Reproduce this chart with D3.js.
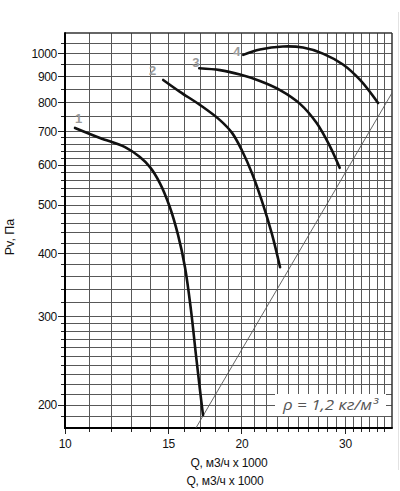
<!DOCTYPE html>
<html>
<head>
<meta charset="utf-8">
<script src="https://cdn.jsdelivr.net/npm/d3@7"></script>
<style>
  html, body { margin: 0; padding: 0; background: #fff; }
  svg { display: block; }
</style>
</head>
<body>
<svg id="chart" width="400" height="491"></svg>
<script>
// ---- data ----
const qTicks = [10, 15, 20, 30];
const pTicks = [200, 300, 400, 500, 600, 700, 800, 900, 1000];
const qGrid = [11, 12, 13, 14, 15, 16, 17, 18, 19, 20, 21, 22, 23, 24, 25, 26, 27, 28, 29, 30, 31, 32, 33, 34, 35];
const pGrid = [190, 200, 210, 220, 230, 240, 250, 260, 270, 280, 290, 300,
               320, 340, 360, 380, 400, 420, 440, 460, 480, 500, 520, 540, 560, 580, 600,
               620, 640, 660, 680, 700, 750, 800, 850, 900, 950, 1000, 1050];

const curveNames = ["1", "2", "3", "4"];
const curve1Q = [10.40, 11.47, 12.65, 13.41, 13.95, 14.50, 15.08, 15.57, 16.00, 16.38, 16.70, 16.97, 17.17];
const curve1P = [712, 680, 652, 623, 595, 553, 495, 436, 376, 309, 252, 214, 191];
const curve2Q = [14.69, 15.69, 16.97, 18.35, 19.24, 20.00, 20.81, 21.63, 22.49, 23.22];
const curve2P = [887, 840, 791, 738, 696, 642, 578, 509, 438, 376];
const curve3Q = [16.92, 18.35, 19.85, 21.46, 23.22, 25.11, 26.80, 28.22, 29.33];
const curve3P = [936, 928, 909, 883, 847, 795, 728, 655, 593];
const curve4Q = [20.10, 21.46, 23.48, 25.40, 27.46, 29.71, 31.77, 34.09];
const curve4P = [995, 1020, 1034, 1029, 1001, 952, 887, 798];
const labelQ = [10.55, 14.1, 16.7, 19.6];
const labelP = [745, 925, 960, 1010];

const systemQ = [16.7, 36];
const systemP = [180, 836];

const densityText = "ρ = 1,2 кг/м³";
const xTitle = "Q, м3/ч x 1000";
const yTitle = "Pv, Па";

// ---- layout ----
const L = 65, R = 392, T = 33, B = 428;
const x = d3.scaleLog().domain([10, 36]).range([L, R]);
const y = d3.scaleLog().domain([180, 1100]).range([B, T]);

const svg = d3.select("#chart");
svg.append("rect").attr("width", 400).attr("height", 491).attr("fill", "#fff");

// faint artifact line at right
svg.append("line").attr("x1", 398.5).attr("x2", 398.5).attr("y1", 12).attr("y2", 470)
  .attr("stroke", "#e2e2e2").attr("stroke-width", 1);

svg.append("defs").append("clipPath").attr("id", "plot")
  .append("rect").attr("x", L).attr("y", T).attr("width", R - L).attr("height", B - T);

const grid = svg.append("g").attr("shape-rendering", "crispEdges");
grid.selectAll("line.v").data(qGrid).join("line").attr("class", "v")
  .attr("x1", d => x(d)).attr("x2", d => x(d)).attr("y1", T).attr("y2", B)
  .attr("stroke", "#585858").attr("stroke-width", 1);
grid.selectAll("line.h").data(pGrid).join("line").attr("class", "h")
  .attr("x1", L).attr("x2", R).attr("y1", d => y(d)).attr("y2", d => y(d))
  .attr("stroke", "#585858").attr("stroke-width", 1);

// y ticks (outside left)
const yt = svg.append("g").attr("shape-rendering", "crispEdges");
yt.selectAll("line").data(pGrid).join("line")
  .attr("x1", d => pTicks.includes(d) ? L - 7 : L - 4).attr("x2", L)
  .attr("y1", d => y(d)).attr("y2", d => y(d))
  .attr("stroke", "#222").attr("stroke-width", 1);
yt.selectAll("text").data(pTicks).join("text")
  .attr("x", L - 8).attr("y", d => y(d)).attr("dy", "0.35em")
  .attr("text-anchor", "end")
  .attr("font-family", "Liberation Sans, Arial, sans-serif").attr("font-size", 12)
  .attr("letter-spacing", -0.3)
  .attr("fill", "#111").text(d => d);

// x ticks (below)
const xt = svg.append("g").attr("shape-rendering", "crispEdges");
xt.selectAll("line").data([10].concat(qGrid)).join("line")
  .attr("x1", d => x(d)).attr("x2", d => x(d))
  .attr("y1", B).attr("y2", d => qTicks.includes(d) ? B + 6 : B + 4)
  .attr("stroke", "#222").attr("stroke-width", 1);
xt.selectAll("text").data(qTicks).join("text")
  .attr("x", d => x(d)).attr("y", B + 11).attr("dy", "0.71em")
  .attr("text-anchor", "middle")
  .attr("font-family", "Liberation Sans, Arial, sans-serif").attr("font-size", 12)
  .attr("letter-spacing", -0.3)
  .attr("fill", "#111").text(d => d);

// frame
svg.append("line").attr("x1", L).attr("x2", R).attr("y1", T).attr("y2", T)
  .attr("stroke", "#333").attr("stroke-width", 1.5);
svg.append("line").attr("x1", R).attr("x2", R).attr("y1", T).attr("y2", B)
  .attr("stroke", "#333").attr("stroke-width", 1.5);
svg.append("line").attr("x1", L).attr("x2", L).attr("y1", T - 0.75).attr("y2", B + 1)
  .attr("stroke", "#000").attr("stroke-width", 2);
svg.append("line").attr("x1", L - 1).attr("x2", R + 0.75).attr("y1", B).attr("y2", B)
  .attr("stroke", "#000").attr("stroke-width", 2);

// density label box
const box = svg.append("g");
box.append("rect").attr("x", 275).attr("y", 394).attr("width", 111).attr("height", 22)
  .attr("fill", "#fff");
box.append("text").attr("x", 283).attr("y", 410)
  .attr("font-family", "Open Sans, DejaVu Sans, sans-serif").attr("font-style", "italic")
  .attr("font-size", 14).attr("fill", "#555")
  .attr("textLength", 95).attr("lengthAdjust", "spacingAndGlyphs")
  .text(densityText);

// system characteristic line
const lineGen = d3.line().x(d => x(d[0])).y(d => y(d[1]));
svg.append("path")
  .attr("clip-path", "url(#plot)")
  .attr("d", lineGen(d3.zip(systemQ, systemP)))
  .attr("fill", "none").attr("stroke", "#555").attr("stroke-width", 0.9);

// fan curves
const curves = [d3.zip(curve1Q, curve1P), d3.zip(curve2Q, curve2P), d3.zip(curve3Q, curve3P), d3.zip(curve4Q, curve4P)];
const smooth = d3.line().x(d => x(d[0])).y(d => y(d[1])).curve(d3.curveCatmullRom.alpha(0.5));
svg.append("g").selectAll("path").data(curves).join("path")
  .attr("d", d => smooth(d))
  .attr("fill", "none").attr("stroke", "#111").attr("stroke-width", 2.6)
  .attr("stroke-linecap", "round");

// curve numbers
svg.append("g").selectAll("text").data(curveNames).join("text")
  .attr("x", (d, i) => x(labelQ[i])).attr("y", (d, i) => y(labelP[i])).attr("dy", "0.35em")
  .attr("text-anchor", "middle")
  .attr("font-family", "Liberation Sans, Arial, sans-serif").attr("font-weight", "bold")
  .attr("font-size", 13).attr("fill", "#9a9a9a").text(d => d);

// axis titles
svg.append("text").attr("transform", "translate(14,237) rotate(-90)")
  .attr("text-anchor", "middle")
  .attr("font-family", "Liberation Sans, Arial, sans-serif").attr("font-size", 12.5)
  .attr("fill", "#111").text(yTitle);
svg.append("text").attr("x", 229).attr("y", 467).attr("text-anchor", "middle")
  .attr("font-family", "Liberation Sans, Arial, sans-serif").attr("font-size", 12)
  .attr("letter-spacing", -0.2)
  .attr("fill", "#111").text(xTitle);
svg.append("text").attr("x", 225).attr("y", 485).attr("text-anchor", "middle")
  .attr("font-family", "Liberation Sans, Arial, sans-serif").attr("font-size", 12)
  .attr("letter-spacing", -0.2)
  .attr("fill", "#111").text(xTitle);
</script>
</body>
</html>
